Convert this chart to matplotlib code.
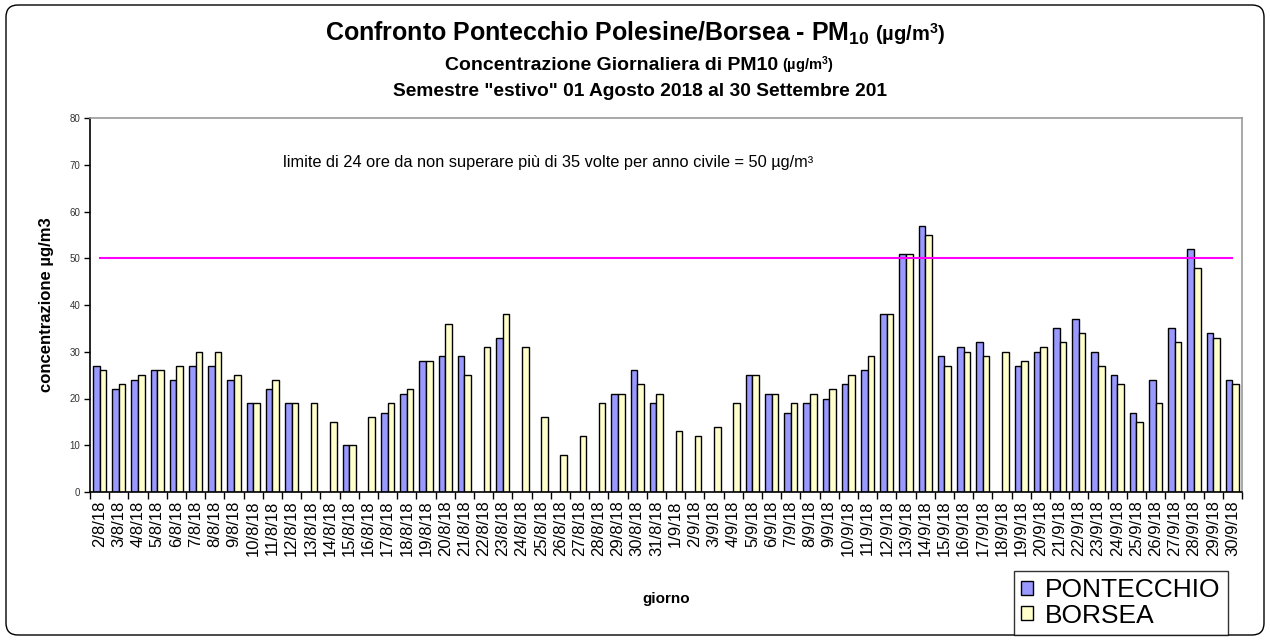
import matplotlib.pyplot as plt
import numpy as np
from matplotlib.patches import FancyBboxPatch, Patch

plt.rcParams['font.family'] = ['Liberation Sans', 'DejaVu Sans']
plt.rcParams['mathtext.default'] = 'regular'

# giorni 2/8/18 -> 30/9/18
days = [f'{d}/8/18' for d in range(2, 32)] + [f'{d}/9/18' for d in range(1, 31)]

nan = np.nan
pontecchio = [27, 22, 24, 26, 24, 27, 27, 24, 19, 22,
              19, nan, nan, 10, nan, 17, 21, 28, 29, 29,
              nan, 33, nan, nan, nan, nan, nan, 21, 26, 19,
              nan, nan, nan, nan, 25, 21, 17, 19, 20, 23,
              26, 38, 51, 57, 29, 31, 32, nan, 27, 30,
              35, 37, 30, 25, 17, 24, 35, 52, 34, 24]
borsea = [26, 23, 25, 26, 27, 30, 30, 25, 19, 24,
          19, 19, 15, 10, 16, 19, 22, 28, 36, 25,
          31, 38, 31, 16, 8, 12, 19, 21, 23, 21,
          13, 12, 14, 19, 25, 21, 19, 21, 22, 25,
          29, 38, 51, 55, 27, 30, 29, 30, 28, 31,
          32, 34, 27, 23, 15, 19, 32, 48, 33, 23]
limite = 50

fig = plt.figure(figsize=(12.7, 6.4), dpi=100)
ax = fig.add_axes([90/1270, 1-492/640, 1152/1270, 374/640])

x = np.arange(len(days))
w = 0.34
ax.bar(x - w/2, np.array(pontecchio, dtype=float), w, color='#9999FF', edgecolor='black', linewidth=1)
ax.bar(x + w/2, borsea, w, color='#FFFFCC', edgecolor='black', linewidth=1)
ax.plot(x, [limite]*len(x), color='#FF00FF', lw=1.5)

ax.set_xlim(-0.5, len(days) - 0.5)
ax.set_ylim(0, 80)
ax.set_yticks(range(0, 81, 10))
ax.tick_params(axis='y', labelsize=7, length=4, width=1, pad=3, labelcolor='#333333')
ax.set_xticks(x)
ax.set_xticklabels(days, rotation=90, fontsize=12)
ax.tick_params(axis='x', length=0, pad=6)
ax.set_xticks(np.arange(-0.5, len(days), 1), minor=True)
ax.tick_params(axis='x', which='minor', length=5, width=1)

for s in ['top', 'right']:
    ax.spines[s].set_color('#999999')
    ax.spines[s].set_linewidth(1.2)
for s in ['left', 'bottom']:
    ax.spines[s].set_linewidth(1.2)

ax.set_ylabel('concentrazione µg/m3', fontsize=12, fontweight='bold', labelpad=11)
ax.set_xlabel('giorno', fontsize=11, fontweight='bold', labelpad=26)

ax.text(0.1675, 0.88, 'limite di 24 ore da non superare più di 35 volte per anno civile = 50 µg/m³',
        transform=ax.transAxes, fontsize=11.8, va='center', ha='left')

# titoli (parte tra parentesi più piccola)
fig.text(870/1270, 1-41/640, 'Confronto Pontecchio Polesine/Borsea - PM$_{10}$',
         ha='right', va='baseline', fontsize=18, fontweight='bold')
fig.text(875/1270, 1-41/640, '(µg/m$^{3}$)',
         ha='left', va='baseline', fontsize=14.5, fontweight='bold')
fig.text(778/1270, 1-70/640, 'Concentrazione Giornaliera di PM10',
         ha='right', va='baseline', fontsize=14, fontweight='bold')
fig.text(782/1270, 1-70/640, '(µg/m$^{3}$)',
         ha='left', va='baseline', fontsize=10.5, fontweight='bold')
fig.text(640/1270, 1-96/640, 'Semestre "estivo" 01 Agosto 2018 al 30 Settembre 201',
         ha='center', va='baseline', fontsize=13.8, fontweight='bold')

handles = [Patch(facecolor='#9999FF', edgecolor='black', label='PONTECCHIO'),
           Patch(facecolor='#FFFFCC', edgecolor='black', label='BORSEA')]
leg = fig.legend(handles=handles, loc='lower right', bbox_to_anchor=(1228/1270, 1-635/640),
                 fontsize=19, frameon=True, fancybox=False, edgecolor='black',
                 handlelength=0.45, handleheight=0.45, handletextpad=0.45,
                 labelspacing=0.05, borderpad=0.28, borderaxespad=0)
leg.get_frame().set_linewidth(1)

border = FancyBboxPatch((6, 5), 1258, 630, boxstyle='round,pad=0,rounding_size=12',
                        transform=None, facecolor='none', edgecolor='black', linewidth=1)
fig.patches.append(border)

fig.savefig('out.png', dpi=100)
